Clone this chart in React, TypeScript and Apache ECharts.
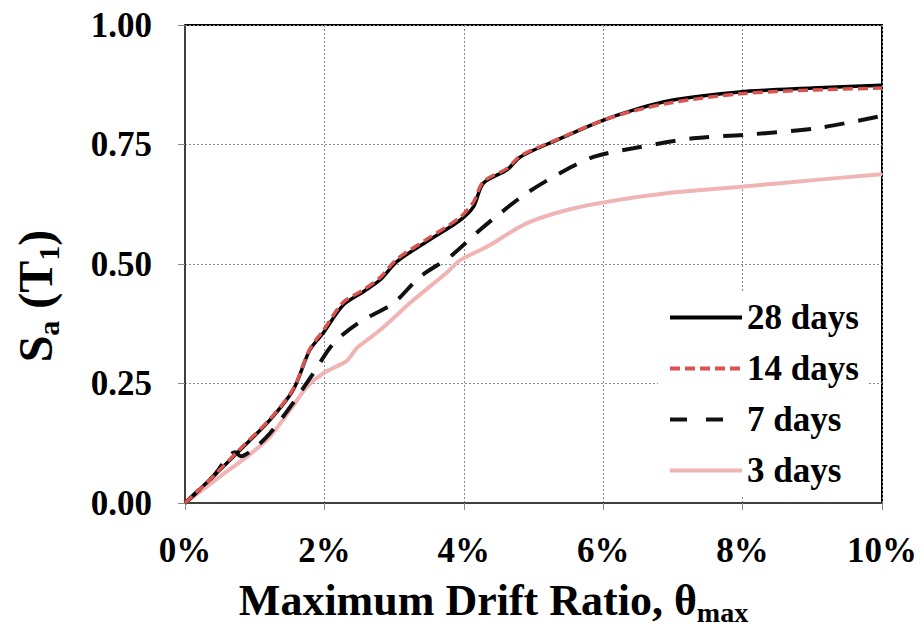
import React, { useEffect, useRef } from "react";
import * as echarts from "echarts";

const xTicks = [0, 2, 4, 6, 8, 10];
const yTicks = [0, 0.25, 0.5, 0.75, 1.0];

const days28X = [0, 0.4, 0.79, 1.22, 1.55, 1.79, 1.98, 2.27, 2.56, 2.8, 3.04, 3.47, 3.95, 4.14, 4.28, 4.62, 4.81, 5.33, 5.95, 6.43, 7.0, 7.96, 9.0, 10];
const days28Y = [0, 0.055, 0.111, 0.174, 0.236, 0.32, 0.355, 0.414, 0.442, 0.467, 0.505, 0.547, 0.592, 0.62, 0.669, 0.697, 0.724, 0.759, 0.798, 0.822, 0.843, 0.86, 0.868, 0.874];

const days14X = [0, 0.4, 0.79, 1.22, 1.55, 1.79, 1.98, 2.27, 2.56, 2.8, 3.04, 3.47, 3.95, 4.14, 4.28, 4.62, 4.81, 5.33, 5.95, 6.43, 7.0, 7.96, 9.0, 10];
const days14Y = [0, 0.055, 0.113, 0.176, 0.238, 0.322, 0.36, 0.42, 0.446, 0.472, 0.51, 0.552, 0.598, 0.63, 0.672, 0.7, 0.726, 0.76, 0.798, 0.82, 0.838, 0.856, 0.864, 0.868];

const days7X = [0, 0.4, 0.72, 0.8, 1.0, 1.22, 1.51, 1.84, 2.13, 2.51, 2.99, 3.37, 3.8, 4.23, 4.52, 4.9, 5.38, 5.86, 6.43, 7.29, 8.01, 9.06, 10];
const days7Y = [0, 0.055, 0.106, 0.098, 0.115, 0.146, 0.201, 0.271, 0.334, 0.379, 0.418, 0.473, 0.515, 0.571, 0.606, 0.648, 0.69, 0.724, 0.742, 0.763, 0.77, 0.784, 0.81];

const days3X = [0, 0.5, 0.89, 1.22, 1.51, 1.75, 1.98, 2.32, 2.4, 2.47, 2.8, 3.28, 3.75, 3.95, 4.33, 4.9, 5.48, 6.05, 6.91, 8.01, 9.06, 10];
const days3Y = [0, 0.055, 0.097, 0.139, 0.195, 0.243, 0.271, 0.297, 0.312, 0.325, 0.362, 0.425, 0.481, 0.508, 0.536, 0.585, 0.613, 0.63, 0.648, 0.662, 0.676, 0.688];

const seriesNames = ["28 days", "14 days", "7 days", "3 days"];

const zip = (xs: number[], ys: number[]) => xs.map((x, i) => [x, ys[i]]);

const FONT = "'Liberation Serif', 'Times New Roman', serif";

export default function App() {
  const ref = useRef<HTMLDivElement>(null);
  useEffect(() => {
    if (!ref.current) return;
    const chart = echarts.init(ref.current, null, { renderer: "svg" });
    chart.setOption({
      animation: false,
      backgroundColor: "#fff",
      grid: {
        left: 185,
        right: 42,
        top: 25,
        bottom: 134,
        containLabel: false,
        outerBoundsMode: "none",
        show: true,
        borderColor: "#000",
        borderWidth: 2,
        backgroundColor: "transparent",
      },
      legend: {
        orient: "vertical",
        left: 658,
        top: 292,
        itemWidth: 72,
        itemHeight: 14,
        itemGap: 16,
        backgroundColor: "#fff",
        padding: [8, 10, 8, 10],
        data: seriesNames.map((n) =>
          n === "7 days" ? { name: n, lineStyle: { type: [17, 19], width: 4 } } : { name: n }
        ),
        itemStyle: { opacity: 0 },
        lineStyle: { width: 4 },
        textStyle: { fontFamily: FONT, fontWeight: "bold", fontSize: 35, color: "#000" },
      },
      xAxis: {
        type: "value",
        min: 0,
        max: xTicks[xTicks.length - 1],
        interval: 2,
        name: "{b|Maximum Drift Ratio, θ}{s|max}",
        nameLocation: "middle",
        nameGap: 71,
        nameTextStyle: {
          padding: [0, 80, 0, 0],
          rich: {
            b: { fontFamily: FONT, fontWeight: "bold", fontSize: 44, lineHeight: 52, color: "#000" },
            s: { fontFamily: FONT, fontWeight: "bold", fontSize: 28, lineHeight: 28, verticalAlign: "bottom", color: "#000" },
          },
        },
        axisLine: { lineStyle: { color: "#404040", width: 2 } },
        axisTick: { show: true, inside: false, length: 7, lineStyle: { color: "#888" } },
        axisLabel: {
          formatter: (v: number) => `${v}%`,
          margin: 30,
          fontFamily: FONT,
          fontWeight: "bold",
          fontSize: 35,
          color: "#000",
        },
        splitLine: { show: true, lineStyle: { color: "#888", type: [2, 2], width: 1 } },
      },
      yAxis: {
        type: "value",
        min: 0,
        max: yTicks[yTicks.length - 1],
        interval: 0.25,
        name: "{b|S}{s|a}{b| (T}{s|1}{b|)}",
        nameLocation: "middle",
        nameGap: 122,
        nameRotate: 90,
        nameTextStyle: {
          padding: [0, 64, 0, 0],
          rich: {
            b: { fontFamily: FONT, fontWeight: "bold", fontSize: 48, lineHeight: 56, color: "#000" },
            s: { fontFamily: FONT, fontWeight: "bold", fontSize: 30, lineHeight: 30, verticalAlign: "bottom", color: "#000" },
          },
        },
        axisLine: { show: true, lineStyle: { color: "#404040", width: 2 } },
        axisTick: { show: true, inside: false, length: 7, lineStyle: { color: "#888" } },
        axisLabel: {
          formatter: (v: number) => v.toFixed(2),
          margin: 33,
          fontFamily: FONT,
          fontWeight: "bold",
          fontSize: 35,
          color: "#000",
        },
        splitLine: { show: true, lineStyle: { color: "#888", type: [2, 2], width: 1 } },
      },
      series: [
        {
          name: "3 days",
          type: "line",
          data: zip(days3X, days3Y),
          showSymbol: false,
          symbol: "none",
          smooth: 0.3,
          z: 1,
          lineStyle: { color: "#f0b4b4", width: 4 },
          itemStyle: { color: "#f0b4b4" },
        },
        {
          name: "7 days",
          type: "line",
          data: zip(days7X, days7Y),
          showSymbol: false,
          symbol: "none",
          smooth: 0.3,
          z: 2,
          lineStyle: { color: "#111", width: 4, type: [20, 14] },
          itemStyle: { color: "#111" },
        },
        {
          name: "28 days",
          type: "line",
          data: zip(days28X, days28Y),
          showSymbol: false,
          symbol: "none",
          smooth: 0.3,
          z: 3,
          lineStyle: { color: "#000", width: 3.5 },
          itemStyle: { color: "#000" },
        },
        {
          name: "14 days",
          type: "line",
          data: zip(days14X, days14Y),
          showSymbol: false,
          symbol: "none",
          smooth: 0.3,
          z: 4,
          lineStyle: { color: "#d9534f", width: 3.5, type: [10, 5] },
          itemStyle: { color: "#d9534f" },
        },
      ],
    });
    return () => chart.dispose();
  }, []);
  return <div ref={ref} style={{ width: 924, height: 637, margin: -8 }} />;
}
